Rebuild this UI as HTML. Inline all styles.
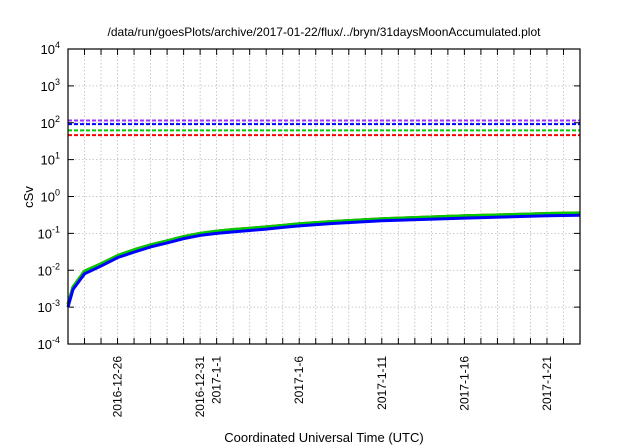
<!DOCTYPE html>
<html><head><meta charset="utf-8"><style>
body{margin:0;background:#fff;}
svg{display:block;font-family:"Liberation Sans",sans-serif;}
</style></head><body>
<svg id="c" width="640" height="448"></svg>
<script>
const dayOffsets=[0,0.3,1,2,3,4,5,6,7,8,9,10,11,12,13,14,16,19,24,29,31];
const blueValues=[0.001,0.003,0.008,0.013,0.022,0.031,0.043,0.055,0.072,0.088,0.10,0.11,0.12,0.13,0.145,0.16,0.185,0.22,0.26,0.30,0.31];
const greenValues=[0.0012,0.0035,0.0095,0.015,0.025,0.036,0.049,0.063,0.082,0.10,0.115,0.127,0.138,0.15,0.165,0.183,0.21,0.25,0.30,0.345,0.36];
const redValues=[0.0012,0.0035,0.0095,0.015,0.025,0.036,0.049,0.063,0.082,0.10,0.115,0.127,0.138,0.15,0.165,0.183,0.21,0.25,0.30,0.345,0.36];
const limitValues=[115,92,62,46];
const limitColors=["#9b30ff","#0000ff","#00cc00","#ff0000"];
const limitNames=["limit-purple","limit-blue","limit-green","limit-red"];
const xTickDays=[3,8,9,14,19,24,29];
const xTickLabels=["2016-12-26","2016-12-31","2017-1-1","2017-1-6","2017-1-11","2017-1-16","2017-1-21"];
const yExponents=[-4,-3,-2,-1,0,1,2,3,4];

const L=68,R=580,T=49,B=344,ns="http://www.w3.org/2000/svg",svg=document.getElementById('c');
const x=d=>L+(R-L)*d/31;
const y=v=>B-(B-T)*(Math.log10(v)+4)/8;
function mk(t,a,p){const e=document.createElementNS(ns,t);for(const k in a)e.setAttribute(k,a[k]);(p||svg).appendChild(e);return e;}
// grid
for(let d=1;d<31;d++){const g=mk('line',{x1:x(d),x2:x(d),y1:T,y2:B,stroke:'#bbb','stroke-width':0.8,'stroke-dasharray':'1.5,2'});


const t1=mk('line',{x1:x(d),x2:x(d),y1:B,y2:B-6,stroke:'#000'});
const t2=mk('line',{x1:x(d),x2:x(d),y1:T,y2:T+6,stroke:'#000'});}
yExponents.forEach(e=>{const yy=y(Math.pow(10,e));
if(e>-4&&e<4){const g=mk('line',{x1:L,x2:R,y1:yy,y2:yy,stroke:'#bbb','stroke-width':0.8,'stroke-dasharray':'1.5,2'});
const t=mk('line',{x1:L,x2:L+6,y1:yy,y2:yy,stroke:'#000'});
const t2=mk('line',{x1:R,x2:R-6,y1:yy,y2:yy,stroke:'#000'});}
const tx=mk('text',{x:L-8,y:yy+5,'text-anchor':'end','font-size':13});

tx.textContent='10';const s=mk('tspan',{dy:-6,'font-size':9},tx);s.textContent=String(e);});
// limits
limitValues.forEach((v,i)=>{const l=mk('line',{x1:L,x2:R,y1:y(v),y2:y(v),stroke:limitColors[i],'stroke-width':2,'stroke-dasharray':'4,2'});
});
// series
function series(vals,col,w,name){const p=mk('polyline',{points:vals.map((v,i)=>x(dayOffsets[i])+','+y(v)).join(' '),fill:'none',stroke:col,'stroke-width':w,'stroke-linejoin':'round'});
}
series(redValues,'#ff0000',3,'series-red');
series(greenValues,'#00cc00',3,'series-green');
series(blueValues,'#0000ff',3,'series-blue');
// box
const bx=mk('rect',{x:L,y:T,width:R-L,height:B-T,fill:'none',stroke:'#000','stroke-width':1.2});
// x labels
xTickDays.forEach((d,i)=>{const t=mk('text',{transform:`translate(${x(d)+4},${B+12}) rotate(-90)`,'text-anchor':'end','font-size':12});
t.textContent=xTickLabels[i];});
const ti=mk('text',{x:324,y:36,'text-anchor':'middle','font-size':12});
ti.textContent='/data/run/goesPlots/archive/2017-01-22/flux/../bryn/31daysMoonAccumulated.plot';
const xt=mk('text',{x:324,y:442,'text-anchor':'middle','font-size':13});
xt.textContent='Coordinated Universal Time (UTC)';
const yt=mk('text',{transform:'translate(33,197) rotate(-90)','text-anchor':'middle','font-size':13});
yt.textContent='cSv';
</script>
</body></html>
